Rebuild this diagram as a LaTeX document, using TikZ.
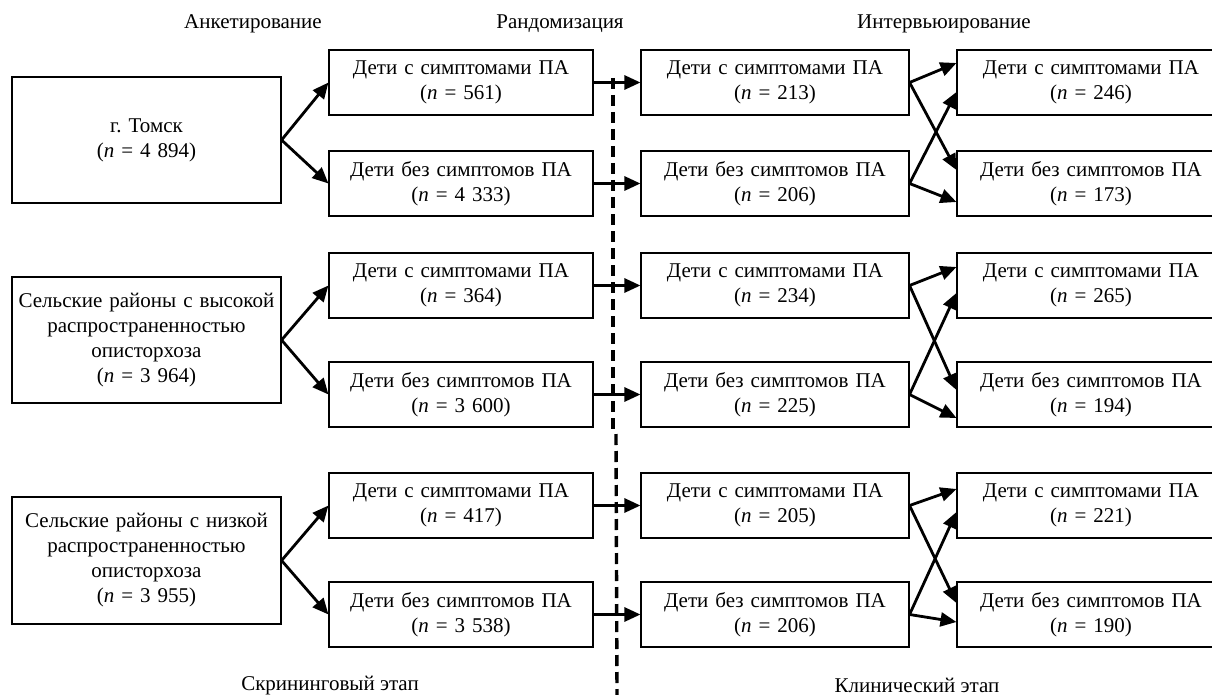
\documentclass[tikz,border=0pt]{standalone}
\usepackage{fontspec}
\setmainfont{Liberation Serif}
\usetikzlibrary{arrows.meta}
\begin{document}
\begin{tikzpicture}[x=1pt,y=-1pt,
  box/.style={draw, line width=1.1pt, inner sep=0pt, align=center, font=\fontsize{21}{25}\selectfont},
  lbox/.style={box, minimum width=269pt, text width=262pt, minimum height=126pt},
  cbox/.style={box, minimum width=264pt, text width=260pt, minimum height=65pt},
  wbox/.style={box, minimum width=268pt, text width=262pt, minimum height=65pt},
  arr/.style={line width=2.8pt, -{Triangle[length=16pt,width=14pt]}},
  lbl/.style={inner sep=0pt, font=\fontsize{21}{25}\selectfont},
  dashline/.style={line width=3.4pt, dash pattern=on 11pt off 6pt}
]
\useasboundingbox (0,0) rectangle (1212,695);
\clip (0,0) rectangle (1212,695);

% top labels
\node[lbl] (h1) at (253,24) {Анкетирование};
\node[lbl] (h2) at (560,24) {Рандомизация};
\node[lbl] (h3) at (944,24) {Интервьюирование};
% bottom labels
\node[lbl] (f1) at (330,686) {Скрининговый этап};
\node[lbl] (f2) at (917,685) {Клинический этап};

% left boxes
\node[lbox] (t) at (146.5,140) {г.\ Томск\\(\textit{n} = 4 894)};
\node[lbox] (hi) at (146.5,340) {Сельские районы с высокой\\распространенностью\\описторхоза\\(\textit{n} = 3 964)};
\node[lbox, minimum height=127pt] (lo) at (146.5,560.5) {Сельские районы с низкой\\распространенностью\\описторхоза\\(\textit{n} = 3 955)};

% column 2
\node[cbox] (a1) at (461,82.5) {Дети с симптомами ПА\\(\textit{n} = 561)};
\node[cbox] (a2) at (461,183.5) {Дети без симптомов ПА\\(\textit{n} = 4 333)};
\node[cbox] (a3) at (461,285.5) {Дети с симптомами ПА\\(\textit{n} = 364)};
\node[cbox] (a4) at (461,394.5) {Дети без симптомов ПА\\(\textit{n} = 3 600)};
\node[cbox] (a5) at (461,505.5) {Дети с симптомами ПА\\(\textit{n} = 417)};
\node[cbox] (a6) at (461,614.5) {Дети без симптомов ПА\\(\textit{n} = 3 538)};

% column 3
\node[wbox] (b1) at (775,82.5) {Дети с симптомами ПА\\(\textit{n} = 213)};
\node[wbox] (b2) at (775,183.5) {Дети без симптомов ПА\\(\textit{n} = 206)};
\node[wbox] (b3) at (775,285.5) {Дети с симптомами ПА\\(\textit{n} = 234)};
\node[wbox] (b4) at (775,394.5) {Дети без симптомов ПА\\(\textit{n} = 225)};
\node[wbox] (b5) at (775,505.5) {Дети с симптомами ПА\\(\textit{n} = 205)};
\node[wbox] (b6) at (775,614.5) {Дети без симптомов ПА\\(\textit{n} = 206)};

% column 4
\node[wbox] (c1) at (1091,82.5) {Дети с симптомами ПА\\(\textit{n} = 246)};
\node[wbox] (c2) at (1091,183.5) {Дети без симптомов ПА\\(\textit{n} = 173)};
\node[wbox] (c3) at (1091,285.5) {Дети с симптомами ПА\\(\textit{n} = 265)};
\node[wbox] (c4) at (1091,394.5) {Дети без симптомов ПА\\(\textit{n} = 194)};
\node[wbox] (c5) at (1091,505.5) {Дети с симптомами ПА\\(\textit{n} = 221)};
\node[wbox] (c6) at (1091,614.5) {Дети без симптомов ПА\\(\textit{n} = 190)};

% dashed separator
\coordinate (d1) at (613,78);
\coordinate (d2) at (613,430);
\coordinate (d3) at (616,434);
\coordinate (d4) at (617,695);
\draw[dashline] (d1) -- (d2);
\draw[dashline] (d3) -- (d4);

% left to column 2
\draw[arr] (t.east) -- (a1.west);
\draw[arr] (t.east) -- (a2.west);
\draw[arr] (hi.east) -- (a3.west);
\draw[arr] (hi.east) -- (a4.west);
\draw[arr] (lo.east) -- (a5.west);
\draw[arr] (lo.east) -- (a6.west);

% column 2 to column 3
\foreach \i in {1,...,6} { \draw[arr] (a\i.east) -- (b\i.west); }

% crossing arrows
\draw[arr] (b1.east) -- ([yshift=19.5pt]c1.west);
\draw[arr] (b1.east) -- ([yshift=13.5pt]c2.west);
\draw[arr] (b2.east) -- ([yshift=-9.5pt]c1.west);
\draw[arr] (b2.east) -- ([yshift=-18.5pt]c2.west);

\draw[arr] (b3.east) -- ([yshift=18.5pt]c3.west);
\draw[arr] (b3.east) -- ([yshift=4.5pt]c4.west);
\draw[arr] (b4.east) -- ([yshift=-7.5pt]c3.west);
\draw[arr] (b4.east) -- ([yshift=-23.5pt]c4.west);

\draw[arr] (b5.east) -- ([yshift=16.5pt]c5.west);
\draw[arr] (b5.east) -- ([yshift=11.5pt]c6.west);
\draw[arr] (b6.east) -- ([yshift=-6.5pt]c5.west);
\draw[arr] (b6.east) -- ([yshift=-7.5pt]c6.west);
\end{tikzpicture}
\end{document}
